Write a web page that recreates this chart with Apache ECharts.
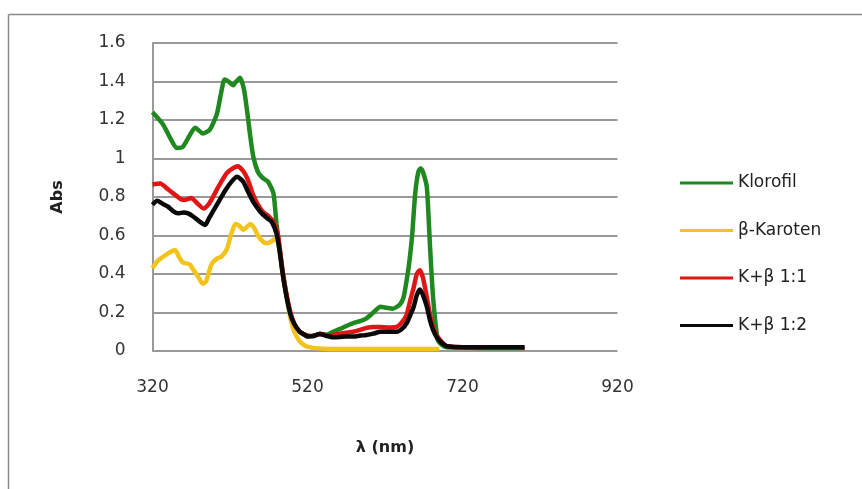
<!DOCTYPE html>
<html>
<head>
<meta charset="utf-8">
<script src="https://cdn.jsdelivr.net/npm/echarts@6/dist/echarts.min.js"></script>
<style>
  html, body { margin: 0; padding: 0; background: #fff; }
  #chart { width: 862px; height: 489px; }
</style>
</head>
<body>
<div id="chart"></div>
<script>
// wavelength (nm) and absorbance
var seriesNames = ['Klorofil', 'β-Karoten', 'K+β 1:1', 'K+β 1:2'];
var seriesColors = ['#1f881f', '#f2c31a', '#e01515', '#0a0a0a'];

var klorofilX = [320, 333, 345, 351, 359, 368, 375, 385, 394, 403, 408, 413, 418, 424, 428, 433, 438, 442, 446, 450, 456, 462, 469, 476, 480, 484, 488, 493, 498, 503, 510, 516, 520, 527, 536, 545, 553, 562, 570, 579, 588, 596, 605, 614, 622, 630, 639, 644, 648, 651, 655, 659, 663, 666, 669, 674, 678, 682, 688, 694, 700, 720, 740, 760, 780, 800];
var klorofilY = [1.24, 1.18, 1.09, 1.055, 1.06, 1.12, 1.16, 1.13, 1.15, 1.23, 1.33, 1.41, 1.40, 1.38, 1.40, 1.42, 1.36, 1.25, 1.12, 1.01, 0.93, 0.90, 0.88, 0.82, 0.66, 0.53, 0.41, 0.29, 0.19, 0.14, 0.10, 0.085, 0.08, 0.075, 0.09, 0.085, 0.10, 0.115, 0.13, 0.145, 0.155, 0.17, 0.20, 0.23, 0.225, 0.22, 0.24, 0.28, 0.37, 0.45, 0.60, 0.82, 0.93, 0.95, 0.93, 0.85, 0.55, 0.28, 0.06, 0.03, 0.02, 0.018, 0.016, 0.015, 0.015, 0.015];

var karotenX = [320, 327, 334, 341, 349, 354, 359, 368, 373, 379, 385, 389, 396, 403, 409, 416, 421, 427, 432, 437, 442, 446, 451, 456, 462, 467, 474, 480, 484, 488, 493, 498, 503, 510, 516, 522, 530, 540, 560, 580, 600, 620, 640, 660, 680, 690];
var karotenY = [0.43, 0.47, 0.49, 0.51, 0.525, 0.49, 0.46, 0.45, 0.42, 0.385, 0.35, 0.36, 0.45, 0.48, 0.49, 0.53, 0.60, 0.66, 0.65, 0.63, 0.645, 0.66, 0.64, 0.60, 0.57, 0.56, 0.57, 0.59, 0.52, 0.40, 0.28, 0.17, 0.10, 0.05, 0.03, 0.02, 0.015, 0.012, 0.01, 0.01, 0.01, 0.01, 0.01, 0.01, 0.01, 0.01];

var mix11X = [320, 330, 340, 348, 356, 362, 370, 377, 386, 392, 398, 406, 416, 424, 430, 437, 443, 450, 456, 463, 470, 477, 482, 488, 493, 498, 503, 510, 516, 522, 529, 536, 545, 553, 562, 570, 579, 588, 596, 605, 614, 624, 635, 642, 648, 653, 657, 661, 665, 669, 674, 678, 682, 687, 691, 696, 700, 720, 740, 760, 780, 800];
var mix11Y = [0.865, 0.87, 0.84, 0.815, 0.79, 0.785, 0.795, 0.77, 0.74, 0.76, 0.80, 0.86, 0.925, 0.95, 0.96, 0.935, 0.89, 0.81, 0.76, 0.72, 0.70, 0.665, 0.60, 0.41, 0.29, 0.20, 0.14, 0.10, 0.085, 0.078, 0.08, 0.088, 0.082, 0.083, 0.09, 0.095, 0.10, 0.11, 0.12, 0.125, 0.125, 0.122, 0.125, 0.15, 0.19, 0.27, 0.33, 0.40, 0.42, 0.38, 0.28, 0.19, 0.125, 0.08, 0.057, 0.035, 0.025, 0.02, 0.02, 0.018, 0.018, 0.018];

var mix12X = [320, 326, 333, 340, 347, 353, 360, 366, 372, 380, 388, 393, 398, 406, 414, 422, 429, 437, 443, 450, 456, 461, 468, 474, 480, 484, 488, 493, 498, 503, 510, 516, 520, 528, 536, 545, 553, 562, 570, 579, 588, 596, 605, 614, 624, 635, 642, 648, 653, 657, 661, 665, 669, 674, 678, 682, 687, 691, 696, 700, 720, 740, 760, 780, 800];
var mix12Y = [0.76, 0.78, 0.765, 0.75, 0.725, 0.715, 0.72, 0.715, 0.70, 0.675, 0.655, 0.69, 0.725, 0.78, 0.835, 0.88, 0.905, 0.88, 0.83, 0.775, 0.74, 0.715, 0.69, 0.67, 0.61, 0.52, 0.40, 0.28, 0.19, 0.14, 0.10, 0.085, 0.075, 0.08, 0.088, 0.078, 0.072, 0.073, 0.075, 0.075, 0.08, 0.083, 0.09, 0.10, 0.10, 0.10, 0.115, 0.145, 0.19, 0.23, 0.29, 0.32, 0.29, 0.23, 0.16, 0.11, 0.07, 0.05, 0.033, 0.025, 0.02, 0.02, 0.02, 0.02, 0.02];

var xTicks = [320, 520, 720, 920];

function pairs(xs, ys) {
  var out = [];
  for (var i = 0; i < xs.length; i++) out.push([xs[i], ys[i]]);
  return out;
}

var allX = [klorofilX, karotenX, mix11X, mix12X];
var allY = [klorofilY, karotenY, mix11Y, mix12Y];

var chart = echarts.init(document.getElementById('chart'));
var fontFam = 'DejaVu Sans';

var option = {
  animation: false,
  backgroundColor: '#fff',
  graphic: [
    { type: 'line', shape: { x1: 8.5, y1: 14.5, x2: 862, y2: 14.5 }, style: { stroke: '#8a8a8a', lineWidth: 1.5 } },
    { type: 'line', shape: { x1: 8.5, y1: 14.5, x2: 8.5, y2: 489 }, style: { stroke: '#8a8a8a', lineWidth: 1.5 } }
  ],
  grid: { left: 152.5, right: 244.5, top: 43, bottom: 138, containLabel: false },
  legend: {
    orient: 'vertical',
    left: 680,
    top: 173,
    padding: 0,
    icon: 'rect',
    itemWidth: 53,
    itemHeight: 3,
    itemGap: 27.5,
    textStyle: { fontFamily: fontFam, fontSize: 17, color: '#222', lineHeight: 20 },
    data: seriesNames
  },
  xAxis: {
    type: 'value',
    min: 320,
    max: 920,
    interval: 200,
    name: 'λ (nm)',
    nameLocation: 'middle',
    nameGap: 89,
    nameTextStyle: { fontFamily: fontFam, fontSize: 16, fontWeight: 'bold', color: '#222' },
    axisLine: { show: false },
    axisTick: { show: false },
    splitLine: { show: false },
    axisLabel: { margin: 28, fontFamily: fontFam, fontSize: 17, color: '#333',
      customValues: xTicks }
  },
  yAxis: {
    type: 'value',
    min: 0,
    max: 1.6,
    interval: 0.2,
    name: 'Abs',
    nameLocation: 'middle',
    nameGap: 87,
    nameRotate: 90,
    nameTextStyle: { fontFamily: fontFam, fontSize: 16, fontWeight: 'bold', color: '#222' },
    axisLine: { show: true, lineStyle: { color: '#999', width: 2 } },
    axisTick: { show: false },
    splitLine: { show: true, lineStyle: { color: '#999', width: 2 } },
    axisLabel: { margin: 27, fontFamily: fontFam, fontSize: 17, color: '#333',
      formatter: function (v) { return String(Math.round(v * 10) / 10); } }
  },
  series: seriesNames.map(function (name, i) {
    return {
      name: name,
      type: 'line',
      showSymbol: false,
      smooth: 0.2,
      color: seriesColors[i],
      lineStyle: { width: 4.5, color: seriesColors[i] },
      data: pairs(allX[i], allY[i])
    };
  })
};

chart.setOption(option);
</script>
</body>
</html>
